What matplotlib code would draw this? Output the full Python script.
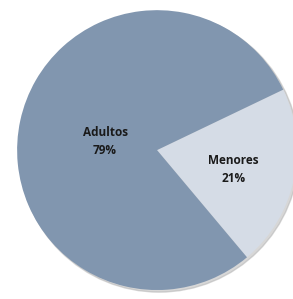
import matplotlib
matplotlib.use("Agg")
import matplotlib.pyplot as plt
import numpy as np

labels = ["Menores", "Adultos"]
valores = [21, 79]
colores = ["#D5DCE6", "#8196AF"]
# distancia relativa de cada etiqueta al centro
dist = [0.56, 0.38]

fig = plt.figure(figsize=(2.93, 2.99), dpi=100)
ax = fig.add_axes([0.058, 0.030, 0.956, 0.936])

wedges, _ = ax.pie(valores, colors=colores, startangle=-50, radius=1,
                   wedgeprops=dict(linewidth=0))
for w in wedges:
    w.set_clip_on(False)

# sombra suave por la derecha
sombra = plt.Circle((0.015, -0.015), 1.0, color="#b0b0b0", alpha=0.5, zorder=0, clip_on=False)
ax.add_patch(sombra)

total = sum(valores)
for w, lab, v, d in zip(wedges, labels, valores, dist):
    ang = np.deg2rad((w.theta1 + w.theta2) / 2)
    ax.text(d * np.cos(ang), d * np.sin(ang) - 0.02, "%s\n%d%%" % (lab, round(100 * v / total)),
            ha="center", va="center", fontsize=8.5, fontweight="bold",
            family="Open Sans", color="#1a1a1a", linespacing=1.55)

ax.set_xlim(-1, 1)
ax.set_ylim(-1, 1)
ax.set_aspect("equal")
ax.axis("off")

fig.savefig("out.png", dpi=100)
